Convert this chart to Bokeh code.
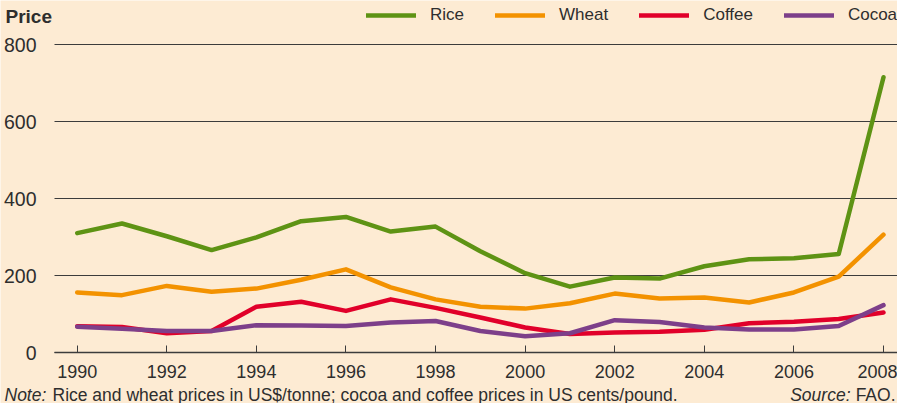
from bokeh.plotting import figure
from bokeh.models import Legend, LegendItem, Label, FixedTicker, Range1d, Grid
from bokeh.embed import file_html
from bokeh.resources import INLINE

years = list(range(1990, 2009))
rice = [310, 335, 302, 266, 299, 341, 352, 314, 327, 263, 206, 171, 195, 192, 224, 242, 245, 256, 715]
wheat = [156, 149, 173, 158, 166, 189, 216, 169, 138, 119, 114, 128, 153, 140, 143, 130, 156, 197, 306]
coffee = [68, 66, 50, 56, 119, 132, 108, 138, 116, 91, 65, 48, 52, 54, 59, 76, 80, 87, 104]
cocoa = [67, 62, 56, 56, 71, 70, 69, 78, 82, 56, 42, 50, 84, 79, 65, 60, 60, 69, 123]

series_names = ["Rice", "Wheat", "Coffee", "Cocoa"]
series_values = [rice, wheat, coffee, cocoa]
series_colors = ["#5E9314", "#F39200", "#E1002A", "#7D3F8A"]

x_ticks = list(range(1990, 2009, 2))
y_ticks = [0, 200, 400, 600, 800]

y_title = "Price"
note_label = "Note:"
note_text = "Rice and wheat prices in US$/tonne; cocoa and coffee prices in US cents/pound."
source_label = "Source:"
source_text = "FAO."

BG = "#FDEBD3"
TXT = "#2E2E2E"
LINE = "#3C3C3C"
FONT = "Liberation Sans"

W, H = 897, 403
# pixel geometry of the plotting area inside the canvas
px_per_year = (883.0 - 76.7) / 18.0
x_start = 1990 - 76.7 / px_per_year
x_end = x_start + W / px_per_year
x_left_edge = x_start + 54 / px_per_year
px_per_unit = (352.0 - 44.0) / 800.0
y_start = -(H - 352.0) / px_per_unit
y_end = 800 + 44.0 / px_per_unit

p = figure(width=W, height=H, output_backend="svg", toolbar_location=None,
           x_range=Range1d(x_start, x_end), y_range=Range1d(y_start, y_end),
           min_border=0, min_border_left=0, min_border_right=0,
           min_border_top=0, min_border_bottom=0)
p.background_fill_color = BG
p.border_fill_color = BG
p.outline_line_color = None

p.xgrid.visible = False
if "cross_bounds" in Grid.properties():
    p.ygrid.ticker = FixedTicker(ticks=y_ticks)
    p.ygrid.grid_line_color = LINE
    p.ygrid.grid_line_width = 1
    p.ygrid.cross_bounds = (x_left_edge, x_end)
else:
    p.ygrid.visible = False
    p.segment(x0=[x_left_edge] * len(y_ticks), y0=y_ticks,
              x1=[x_end] * len(y_ticks), y1=y_ticks,
              line_color=LINE, line_width=1)

p.xaxis.fixed_location = 0
p.xaxis.bounds = (x_left_edge, x_end)
p.xaxis.ticker = FixedTicker(ticks=x_ticks)
p.xaxis.axis_line_color = LINE
p.xaxis.axis_line_width = 1.3
p.xaxis.major_tick_in = 7
p.xaxis.major_tick_out = 0
p.xaxis.major_tick_line_color = LINE
p.xaxis.major_tick_line_width = 1
p.xaxis.minor_tick_line_color = None
p.xaxis.major_label_standoff = 12
p.xaxis.major_label_text_font_size = "18px"
p.xaxis.major_label_text_font = FONT
p.xaxis.major_label_text_color = TXT

p.yaxis.fixed_location = x_left_edge
p.yaxis.ticker = FixedTicker(ticks=y_ticks)
p.yaxis.axis_line_color = None
p.yaxis.major_tick_line_color = None
p.yaxis.minor_tick_line_color = None
p.yaxis.major_tick_in = 0
p.yaxis.major_tick_out = 0
p.yaxis.major_label_standoff = 18
p.yaxis.major_label_text_font_size = "19.5px"
p.yaxis.major_label_text_font = FONT
p.yaxis.major_label_text_color = TXT

items = []
for name, vals, col in zip(series_names, series_values, series_colors):
    r = p.line(years, vals, line_color=col, line_width=4.5, line_join="round", line_cap="round")
    items.append(LegendItem(label=name, renderers=[r]))

legend = Legend(items=items, orientation="horizontal", location=(366, H - 25),
                padding=0, margin=0, spacing=31, glyph_width=50, glyph_height=20,
                label_height=20, label_standoff=14,
                label_text_font_size="17px", label_text_font=FONT, label_text_color=TXT,
                border_line_color=None, background_fill_alpha=0)
p.add_layout(legend)

p.add_layout(Label(x=5, y=H - 16, x_units="screen", y_units="screen", text=y_title,
                   text_font=FONT, text_font_style="bold", text_font_size="19px",
                   text_color=TXT, text_baseline="middle", text_align="left"))
note_y = H - 394
NOTE_FS = "17.5px"
p.add_layout(Label(x=4, y=note_y, x_units="screen", y_units="screen", text=note_label,
                   text_font=FONT, text_font_style="italic", text_font_size=NOTE_FS,
                   text_color=TXT, text_baseline="middle", text_align="left"))
p.add_layout(Label(x=52, y=note_y, x_units="screen", y_units="screen", text=note_text,
                   text_font=FONT, text_font_size=NOTE_FS,
                   text_color=TXT, text_baseline="middle", text_align="left"))
p.add_layout(Label(x=850, y=note_y, x_units="screen", y_units="screen", text=source_label,
                   text_font=FONT, text_font_style="italic", text_font_size=NOTE_FS,
                   text_color=TXT, text_baseline="middle", text_align="right"))
p.add_layout(Label(x=895, y=note_y, x_units="screen", y_units="screen", text=source_text,
                   text_font=FONT, text_font_size=NOTE_FS,
                   text_color=TXT, text_baseline="middle", text_align="right"))

open("out.html", "w").write(file_html(p, INLINE))
